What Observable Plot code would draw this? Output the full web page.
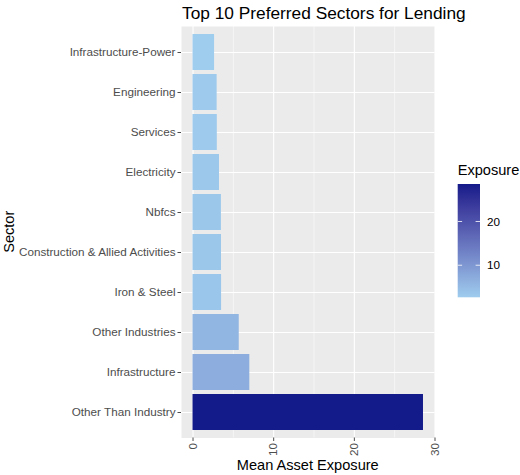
<!DOCTYPE html>
<html><head><meta charset="utf-8">
<script src="https://cdn.jsdelivr.net/npm/d3@7"></script>
<script src="https://cdn.jsdelivr.net/npm/@observablehq/plot@0.6"></script>
<style>body{margin:0;background:#fff;} svg{display:block;}</style>
</head><body><div id="chart"></div>
<script>
const sectors = ["Infrastructure-Power","Engineering","Services","Electricity","Nbfcs","Construction & Allied Activities","Iron & Steel","Other Industries","Infrastructure","Other Than Industry"];
const exposure = [2.67, 2.99, 3.01, 3.28, 3.52, 3.53, 3.54, 5.73, 7.04, 28.57];
const xTicks = [0, 10, 20, 30];
const xMinor = [5, 15, 25];
const legendTicks = [10, 20];
const title = "Top 10 Preferred Sectors for Lending";
const xTitle = "Mean Asset Exposure";
const yTitle = "Sector";
const legendTitle = "Exposure";
const lowColor = "#9fcdee", highColor = "#131a89";

const data = sectors.map((s, i) => ({sector: s, value: exposure[i]}));
const vmin = d3.min(exposure), vmax = d3.max(exposure);
const pad = 0.05 * vmax;
const font = "'Liberation Sans', Arial, sans-serif";

const W = 520, H = 475, mL = 181, mR = 85.5, mT = 26, mB = 37.5;

const plot = Plot.plot({
  width: W, height: H, marginLeft: mL, marginRight: mR, marginTop: mT, marginBottom: mB,
  style: {fontFamily: font, background: "#fff", overflow: "visible"},
  x: {domain: [-pad, vmax + pad]},
  y: {type: "band", domain: sectors, paddingInner: 0.1, paddingOuter: 0.15, align: 0.5},
  color: {type: "linear", domain: [vmin, vmax], range: [lowColor, highColor], interpolate: "lab"},
  marks: [
    Plot.frame({fill: "#ebebeb", stroke: null}),
    Plot.gridX({ticks: xMinor, stroke: "white", strokeOpacity: 1, strokeWidth: 0.55}),
    Plot.gridX({ticks: xTicks, stroke: "white", strokeOpacity: 1, strokeWidth: 1.1}),
    Plot.gridY({stroke: "white", strokeOpacity: 1, strokeWidth: 1.1}),
    Plot.barX(data, {x: "value", y: "sector", fill: "value"}),
    Plot.axisX({ticks: xTicks, tickSize: 3.5, tickPadding: 1.5, tickRotate: -90, fontSize: 11.7, color: "#4d4d4d", label: null}),
    Plot.axisY({tickSize: 3.5, tickPadding: 2.5, fontSize: 11.7, color: "#4d4d4d", label: null})
  ]
});
document.getElementById("chart").appendChild(plot);

const svg = d3.select(plot);
const colorScale = plot.scale("color");

const titleText = svg.append("text").attr("x", 182).attr("y", 19).attr("text-anchor", "start")
  .attr("font-size", 17.5).attr("fill", "#000").attr("font-family", font).text(title);
// fit title to the reference width (182 → 466)
const tw = titleText.node().getComputedTextLength();
if (tw > 0) titleText.attr("font-size", 17.5 * 284 / tw);

svg.append("text").attr("x", (mL + W - mR) / 2).attr("y", 470).attr("text-anchor", "middle")
  .attr("font-size", 14.6).attr("fill", "#000").attr("font-family", font).text(xTitle);
svg.append("text").attr("transform", `translate(13.5,${(mT + H - mB) / 2}) rotate(-90)`)
  .attr("text-anchor", "middle").attr("font-size", 14.6).attr("fill", "#000").attr("font-family", font).text(yTitle);

// legend colorbar
const lx = 457.7, lw = 22.3, ly0 = 184, ly1 = 297.3;
const ly = d3.scaleLinear([vmin, vmax], [ly1, ly0]);
const grad = svg.append("defs").append("linearGradient").attr("id", "lg")
  .attr("x1", 0).attr("y1", 1).attr("x2", 0).attr("y2", 0);
d3.range(0, 1.0001, 0.05).forEach(t => {
  grad.append("stop").attr("offset", t).attr("stop-color", colorScale.apply(vmin + t * (vmax - vmin)));
});
svg.append("rect").attr("x", lx).attr("y", ly0).attr("width", lw).attr("height", ly1 - ly0).attr("fill", "url(#lg)");
legendTicks.forEach(v => {
  const y = ly(v);
  svg.append("line").attr("x1", lx).attr("x2", lx + 4.4).attr("y1", y).attr("y2", y).attr("stroke", "white").attr("stroke-width", 1).attr("stroke-opacity", 0.8);
  svg.append("line").attr("x1", lx + lw - 4.4).attr("x2", lx + lw).attr("y1", y).attr("y2", y).attr("stroke", "white").attr("stroke-width", 1).attr("stroke-opacity", 0.8);
  svg.append("text").attr("x", lx + lw + 7).attr("y", y).attr("dy", "0.35em").attr("text-anchor", "start")
    .attr("font-size", 11.7).attr("fill", "#000").attr("font-family", font).text(v);
});
svg.append("text").attr("x", lx).attr("y", 175).attr("text-anchor", "start").attr("font-size", 14.6).attr("fill", "#000")
  .attr("font-family", font).text(legendTitle);
</script>
</body></html>
